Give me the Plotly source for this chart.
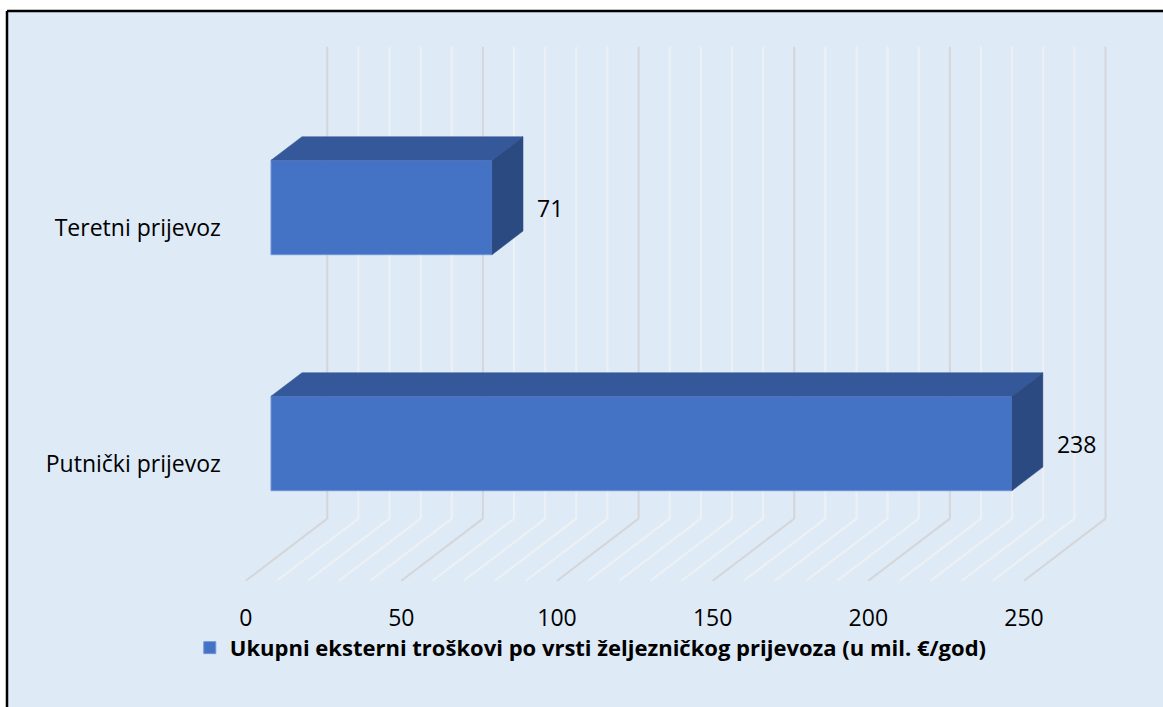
import plotly.graph_objects as go

# ---- data ----
categories = ["Putnički prijevoz", "Teretni prijevoz"]
values = [238, 71]
series_name = "Ukupni eksterni troškovi po vrsti željezničkog prijevoza (u mil. €/god)"
tick_values = [0, 50, 100, 150, 200, 250]
minor_step = 10
axis_max = 250

# ---- style / projection parameters ----
DX = 26.2      # horizontal shift (value units) for full depth
DY = 0.263     # vertical shift (category units) for full depth
D0, D1 = 0.31, 0.69   # bar depth extent
BAR_W = 0.4
FLOOR, TOP = -0.5, 1.5
BG = "#DEEAF6"
FRONT = "#4472C4"
TOPC = "#34589A"
SIDE = "#2B4A82"
FONT = "Open Sans"

fig = go.Figure()

pos = list(range(len(categories)))

# gridlines (back wall + floor) as shapes below traces
for v in range(0, axis_max + 1, minor_step):
    col = "#D4D6D9" if v % 50 == 0 else "#EEF1F4"
    fig.add_shape(type="line", xref="x", yref="y", layer="below",
                  x0=v, y0=FLOOR, x1=v + DX, y1=FLOOR + DY, line=dict(color=col, width=2))
    fig.add_shape(type="line", xref="x", yref="y", layer="below",
                  x0=v + DX, y0=FLOOR + DY, x1=v + DX, y1=TOP + DY, line=dict(color=col, width=2))

# chart-area frame (top and left edges visible)
fig.add_shape(type="line", xref="paper", yref="paper", x0=0, y0=1, x1=1, y1=1,
              line=dict(color="black", width=2.5))
fig.add_shape(type="line", xref="paper", yref="paper", x0=0, y0=0, x1=0, y1=1,
              line=dict(color="black", width=2.5))

# front faces
fig.add_trace(go.Bar(
    orientation="h", x=values, y=[p + DY * D0 for p in pos], base=DX * D0,
    width=BAR_W, marker=dict(color=FRONT, line=dict(color="#6F96D8", width=1)),
    name="<b>" + series_name + "</b>", showlegend=True, hoverinfo="skip"))

# 3D faces: top and side
for p, v in zip(pos, values):
    x0 = DX * D0
    x1 = v + DX * D0
    hb = p - BAR_W / 2
    ht = p + BAR_W / 2
    dd = D1 - D0
    fig.add_trace(go.Scatter(
        x=[x0, x1, x1 + DX * dd, x0 + DX * dd, x0],
        y=[ht + DY * D0, ht + DY * D0, ht + DY * D1, ht + DY * D1, ht + DY * D0],
        fill="toself", fillcolor=TOPC, mode="lines", line=dict(color=TOPC, width=0.5),
        hoverinfo="skip", showlegend=False))
    fig.add_trace(go.Scatter(
        x=[x1, x1 + DX * dd, x1 + DX * dd, x1, x1],
        y=[hb + DY * D0, hb + DY * D1, ht + DY * D1, ht + DY * D0, hb + DY * D0],
        fill="toself", fillcolor=SIDE, mode="lines", line=dict(color=SIDE, width=0.5),
        hoverinfo="skip", showlegend=False))

# data labels
fig.add_trace(go.Scatter(
    x=[v + DX * D1 + 4.5 for v in values], y=[p + DY * D0 - 0.018 for p in pos],
    mode="text", text=[str(v) for v in values], textposition="middle right",
    textfont=dict(family=FONT, size=23, color="#000000"),
    hoverinfo="skip", showlegend=False))

# category labels
fig.add_trace(go.Scatter(
    x=[-8] * len(categories), y=[p - 0.014 for p in pos], mode="text", text=categories,
    textposition="middle left", textfont=dict(family=FONT, size=23, color="#000000"),
    hoverinfo="skip", showlegend=False))

# value-axis tick labels
fig.add_trace(go.Scatter(
    x=tick_values, y=[FLOOR - 0.168] * len(tick_values), mode="text",
    text=[str(t) for t in tick_values], textposition="middle center",
    textfont=dict(family=FONT, size=23, color="#000000"),
    hoverinfo="skip", showlegend=False))

fig.update_layout(
    width=1163, height=707,
    margin=dict(l=7, r=0, t=11, b=0),
    paper_bgcolor="white", plot_bgcolor=BG,
    xaxis=dict(range=[-76.68, 294.66], showgrid=False, zeroline=False, showticklabels=False,
               showline=False, fixedrange=True),
    yaxis=dict(range=[-1.035, 1.914], showgrid=False, zeroline=False, showticklabels=False,
               showline=False, fixedrange=True),
    showlegend=True,
    legend=dict(orientation="h", x=0.505, xanchor="center", y=0.085, yanchor="middle",
                bgcolor="rgba(0,0,0,0)", font=dict(family=FONT, size=22, color="#000000")),
    font=dict(family=FONT),
)

fig.write_html("out.html", config={"displayModeBar": False},
               post_script="document.body.style.margin='0';document.body.style.overflow='hidden';")
